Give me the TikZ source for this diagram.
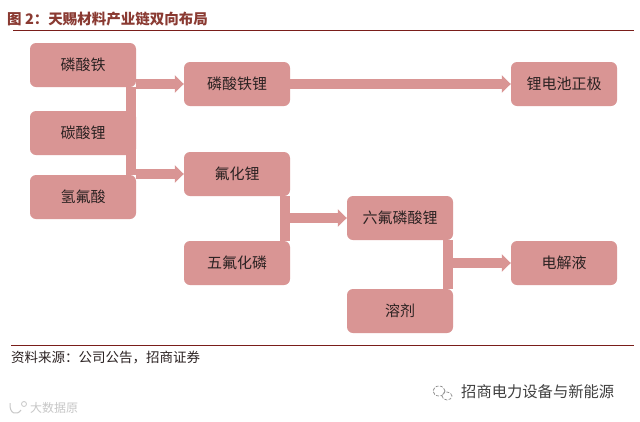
\documentclass[tikz,border=0pt]{standalone}
\usepackage{fontspec}
\setmainfont{Noto Sans CJK SC}
\usetikzlibrary{arrows.meta,calc}
\definecolor{boxc}{HTML}{D99594}
\definecolor{titlec}{HTML}{8A3A32}
\definecolor{rulec}{HTML}{7A1E1A}
\definecolor{txtc}{HTML}{2B2222}
\tikzset{
 flowbox/.style={fill=boxc,rounded corners=6pt,minimum width=106pt,minimum height=44pt,inner sep=0pt,text=txtc,font=\fontsize{15}{15}\selectfont,anchor=center},
 bar/.style={draw=boxc,line width=10pt},
 flowarrow/.style={draw=boxc,line width=10pt,-{Triangle[length=9pt,width=17pt]}},
 rulel/.style={draw=rulec,line width=1.1pt},
 mark/.style={}
}
\begin{document}
\begin{tikzpicture}[x=1pt,y=-1pt]
\useasboundingbox (0,0) rectangle (640,421);
\fill[white] (0,0) rectangle (640,421);
% rules
\coordinate (r1a) at (13,30.5); \coordinate (r1b) at (634,30.5);
\coordinate (r2a) at (11,345.5); \coordinate (r2b) at (634,345.5);
\draw[rulel] (r1a) -- (r1b);
\draw[rulel] (r2a) -- (r2b);
% title
\node[anchor=west,inner sep=0pt,text=titlec,font=\fontsize{14.5}{15}\selectfont\bfseries] (title) at (7,19) {图 2：天赐材料产业链双向布局};
% boxes
\node[flowbox] (a) at (83,65) {磷酸铁};
\node[flowbox] (b) at (83,133) {碳酸锂};
\node[flowbox] (c) at (83,197) {氢氟酸};
\node[flowbox] (d) at (237,84) {磷酸铁锂};
\node[flowbox] (e) at (237,174) {氟化锂};
\node[flowbox] (f) at (237,263) {五氟化磷};
\node[flowbox] (g) at (400,218) {六氟磷酸锂};
\node[flowbox] (h) at (400,311) {溶剂};
\node[flowbox] (i) at (564,263) {电解液};
\node[flowbox] (j) at (564,84) {锂电池正极};
% connectors
\draw[bar] ([xshift=-5pt]a.south east) -- ([xshift=-5pt]c.north east);
\draw[bar] ([xshift=-5pt]e.south east) -- ([xshift=-5pt]f.north east);
\draw[bar] ([xshift=-5pt]g.south east) -- ([xshift=-5pt]h.north east);
\draw[flowarrow] (a.east |- d.west) -- (d.west);
\draw[flowarrow] (c.east |- e.west) -- (e.west);
\draw[flowarrow] (d.east) -- (j.west);
\draw[flowarrow] (e.east |- g.west) -- (g.west);
\draw[flowarrow] (g.east |- i.west) -- (i.west);
% source
\node[anchor=west,inner sep=0pt,text=txtc,font=\fontsize{13.5}{14}\selectfont] (src) at (11,358) {资料来源：公司公告，招商证券};
% watermark
\node[anchor=west,inner sep=0pt,text=black!75,font=\fontsize{15.3}{16}\selectfont] (wm) at (461,392) {招商电力设备与新能源};
\draw[black!45,line width=.7pt,dash pattern=on 3pt off 1.5pt] (439,391) ellipse (6pt and 5pt);
\draw[black!45,line width=.7pt,dash pattern=on 3pt off 1.5pt] (447,396) ellipse (5pt and 4pt);
\node[anchor=west,inner sep=0pt,text=black!22,font=\fontsize{12}{12}\selectfont] (wm2) at (30,408) {大数据原};
\draw[black!22,line width=1pt] (10,403) .. controls (9,414) and (17,416) .. (21,410);
\draw[black!22,line width=.8pt] (24,404) circle (2.5pt);
\end{tikzpicture}
\end{document}
